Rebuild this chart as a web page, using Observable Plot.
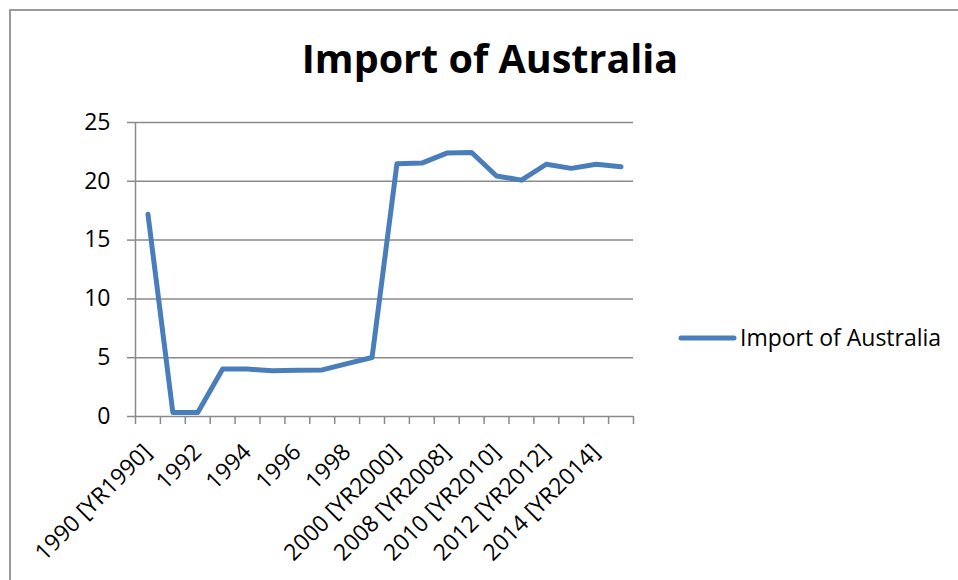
<!DOCTYPE html>
<html>
<head>
<meta charset="utf-8">
<script src="https://cdn.jsdelivr.net/npm/d3@7"></script>
<script src="https://cdn.jsdelivr.net/npm/@observablehq/plot@0.6"></script>
<style>
  html, body { margin: 0; padding: 0; background: #fff; }
  #wrap { position: relative; width: 958px; height: 580px; overflow: hidden; font-family: "Open Sans", sans-serif; }
  #border { position: absolute; left: 9px; top: 9px; right: -5px; bottom: -5px; border-top: 2px solid #9a9a9a; border-left: 2px solid #9a9a9a; }
  #overlay { position: absolute; left: 0; top: 0; pointer-events: none; }
  #chart { position: absolute; left: 0; top: 0; }
</style>
</head>
<body>
<div id="wrap">
  <div id="border"></div>
  <div id="chart"></div>
  <svg id="overlay" width="958" height="580"></svg>
</div>
<script>
const title = "Import of Australia";
const seriesName = "Import of Australia";
const categories = [
  "1990 [YR1990]", "1991", "1992", "1993", "1994", "1995", "1996", "1997", "1998", "1999",
  "2000 [YR2000]", "2007 [YR2007]", "2008 [YR2008]", "2009 [YR2009]", "2010 [YR2010]",
  "2011 [YR2011]", "2012 [YR2012]", "2013 [YR2013]", "2014 [YR2014]", "2015 [YR2015]"
];
const values = [
  17.2, 0.34, 0.34, 4.03, 4.03, 3.89, 3.93, 3.96, 4.5, 5.02,
  21.5, 21.55, 22.4, 22.45, 20.45, 20.1, 21.45, 21.1, 21.45, 21.23
];
const yTicks = [0, 5, 10, 15, 20, 25];
const labelEvery = 2;

const data = categories.map((c, i) => ({i, cat: c, v: values[i]}));
const labelData = data.filter(d => d.i % labelEvery === 0);
const boundaries = d3.range(categories.length + 1);

const blue = "#4a7ebb";
const grid = "#8a8a8a";
const font = "'Open Sans', sans-serif";

const chart = Plot.plot({
  width: 958,
  height: 580,
  marginLeft: 135,
  marginRight: 325,
  marginTop: 122,
  marginBottom: 164,
  style: {fontFamily: font, fontSize: "23px", color: "#000", background: "transparent"},
  x: {type: "linear", domain: [0, categories.length], label: null},
  y: {domain: [0, 25], label: null},
  marks: [
    Plot.ruleY(yTicks, {stroke: grid, strokeWidth: 1.5}),
    Plot.ruleX([0], {stroke: grid, strokeWidth: 1.5}),
    Plot.axisY({ticks: yTicks, tickSize: 8, tickPadding: 17, stroke: grid, strokeWidth: 1.5, fill: "#000", fontSize: 23, label: null}),
    Plot.axisX({ticks: boundaries, tickSize: 8, tickFormat: () => "", stroke: grid, strokeWidth: 1.5, label: null}),
    Plot.text(labelData, {x: d => d.i + 0.5, frameAnchor: "bottom", text: "cat", rotate: -45, textAnchor: "end", dx: 5, dy: 37, fontSize: 23, fill: "#000"}),
    Plot.line(data, {x: d => d.i + 0.5, y: "v", stroke: blue, strokeWidth: 5, strokeLinejoin: "round", strokeLinecap: "round"})
  ]
});
document.getElementById("chart").appendChild(chart);

const ov = d3.select("#overlay");
ov.append("text")
  .attr("x", 490).attr("y", 73)
  .attr("text-anchor", "middle")
  .attr("font-family", font)
  .attr("font-weight", 700)
  .attr("font-size", 39.5)
  .attr("fill", "#000")
  .text(title);
ov.append("line")
  .attr("x1", 681).attr("x2", 734).attr("y1", 338).attr("y2", 338)
  .attr("stroke", blue).attr("stroke-width", 5).attr("stroke-linecap", "round");
ov.append("text")
  .attr("x", 740).attr("y", 346)
  .attr("font-family", font)
  .attr("font-size", 23)
  .attr("fill", "#000")
  .text(seriesName);
</script>
</body>
</html>
